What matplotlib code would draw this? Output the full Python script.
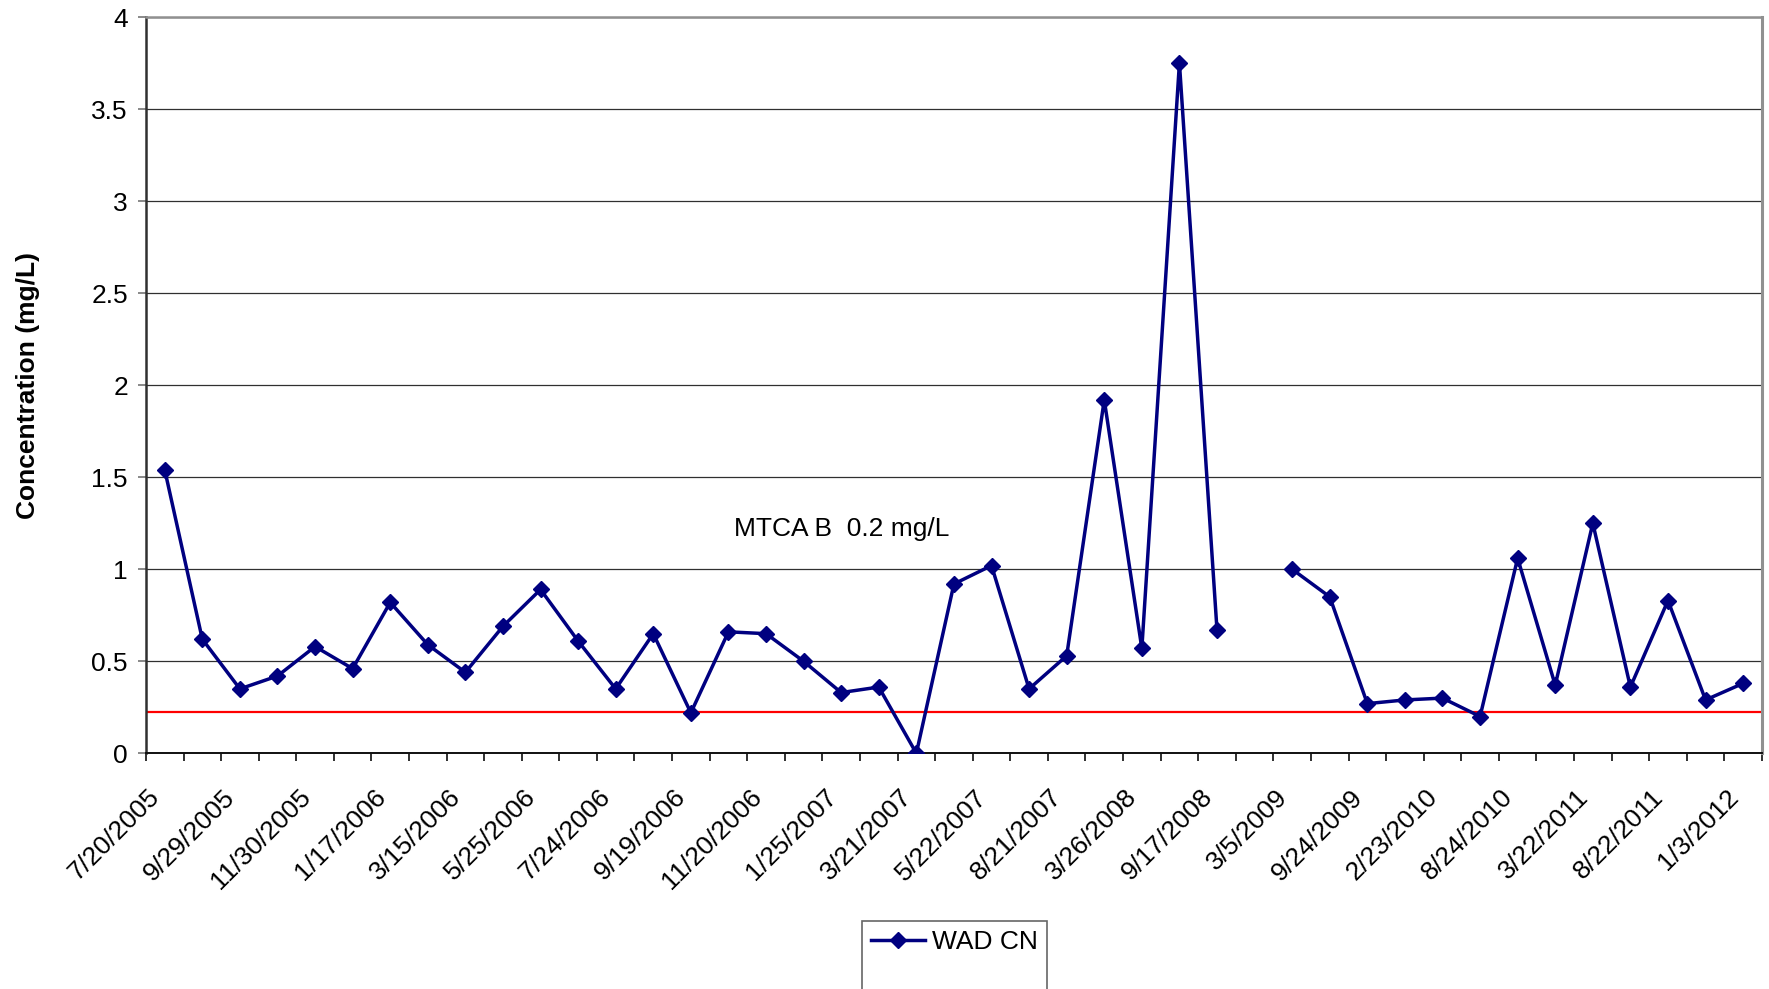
"""WAD CN concentration over time, Excel-style line chart."""

import matplotlib

matplotlib.use("Agg")
import matplotlib.pyplot as plt
import numpy as np
from matplotlib.lines import Line2D

plt.rcParams["font.family"] = ["Liberation Sans", "DejaVu Sans"]

sample_dates = [
    "7/20/2005", "8/31/2005", "9/29/2005", "10/27/2005", "11/30/2005", "12/20/2005",
    "1/17/2006", "2/15/2006", "3/15/2006", "4/19/2006", "5/25/2006", "6/21/2006",
    "7/24/2006", "8/22/2006", "9/19/2006", "10/18/2006", "11/20/2006", "12/19/2006",
    "1/25/2007", "2/21/2007", "3/21/2007", "4/18/2007", "5/22/2007", "6/20/2007",
    "8/21/2007", "11/27/2007", "3/26/2008", "6/24/2008", "9/17/2008", "12/10/2008",
    "3/5/2009", "6/16/2009", "9/24/2009", "12/8/2009", "2/23/2010", "5/25/2010",
    "8/24/2010", "11/30/2010", "3/22/2011", "6/14/2011", "8/22/2011", "11/15/2011",
    "1/3/2012",
]
wad_cn = [
    1.54, 0.62, 0.35, 0.42, 0.58, 0.46, 0.82, 0.59, 0.44, 0.69, 0.89, 0.61,
    0.35, 0.65, 0.22, 0.66, 0.65, 0.50, 0.33, 0.36, 0.00, 0.92, 1.02, 0.35,
    0.53, 1.92, 0.57, 3.75, 0.67, np.nan, 1.00, 0.85, 0.27, 0.29, 0.30, 0.20,
    1.06, 0.37, 1.25, 0.36, 0.83, 0.29, 0.38,
]
mtca_b_line = 0.225
mtca_label = "MTCA B  0.2 mg/L"
y_ticks = [0, 0.5, 1, 1.5, 2, 2.5, 3, 3.5, 4]

NAVY = "#000080"
FS = 19

fig = plt.figure(figsize=(17.69, 9.89), dpi=100)
ax = fig.add_axes([0.0825, 0.2383, 0.9135, 0.7445])

x = np.arange(len(sample_dates))
ax.axhline(mtca_b_line, color="#FF0000", linewidth=1.6, zorder=2)
(line,) = ax.plot(x, wad_cn, color=NAVY, linewidth=2.5, marker="D", markersize=8.5, zorder=3)

ax.text(15.15, 1.22, mtca_label, fontsize=FS, ha="left", va="center")

ax.set_xlim(-0.5, len(sample_dates) - 0.5)
ax.set_ylim(0, 4)
ax.set_yticks(y_ticks, [f"{v:g}" for v in y_ticks], fontsize=FS)
ax.grid(axis="y", color="#303030", linewidth=0.9)
ax.set_axisbelow(True)

label_pos = x[::2]
ax.set_xticks(label_pos, [sample_dates[i] for i in label_pos], fontsize=FS)
ax.set_xticks(np.arange(-0.5, len(sample_dates)), minor=True)
ax.tick_params(axis="x", which="major", length=0, pad=35)
ax.tick_params(axis="x", which="minor", length=6, width=1.3, color="#202020")
ax.tick_params(axis="y", length=6, width=1.3, color="#808080", pad=7)
for lbl in ax.get_xticklabels():
    lbl.set_rotation(45)
    lbl.set_ha("right")
    lbl.set_va("bottom")
    lbl.set_rotation_mode("anchor")

ax.spines["left"].set_color("#303030")
ax.spines["left"].set_linewidth(1.8)
ax.spines["bottom"].set_color("#101010")
ax.spines["bottom"].set_linewidth(1.4)
ax.spines["top"].set_color("#909090")
ax.spines["top"].set_linewidth(1.8)
ax.spines["right"].set_color("#909090")
ax.spines["right"].set_linewidth(2.2)

ax.set_ylabel("Concentration (mg/L)", fontsize=FS, fontweight="bold")
ax.yaxis.set_label_coords(-0.0656, 0.5)

blank = Line2D([], [], linestyle="none")
leg = fig.legend(
    [line, blank], ["WAD CN", " "],
    loc="upper left", bbox_to_anchor=(862 / 1769, 1 - 921 / 989),
    fontsize=FS, handlelength=2.05, handletextpad=0.25, borderaxespad=0,
    borderpad=0.35, fancybox=False, edgecolor="#404040", labelspacing=0.9,
)
leg.get_frame().set_linewidth(1.2)

fig.savefig("out.png", dpi=100)
